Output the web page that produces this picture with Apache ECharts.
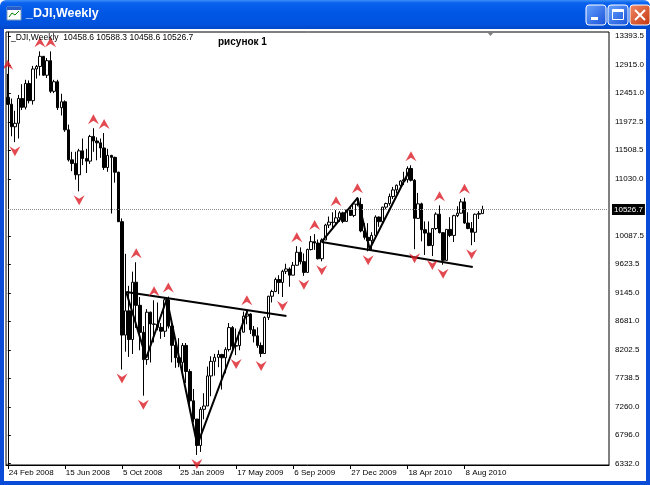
<!DOCTYPE html>
<html><head><meta charset="utf-8">
<script src="https://cdn.jsdelivr.net/npm/echarts@6/dist/echarts.min.js"></script>
<style>html,body{margin:0;padding:0;background:#fff}#c{width:650px;height:485px}</style>
</head><body><div id="c"></div>
<script>
// Weekly OHLC, _DJI, from week of 24 Feb 2008
const opens = [12381,12266,11894,11951,12361,12216,12609,12325,12849,12891,13058,12745,12986,12480,12638,12209,12307,11843,11347,11288,
11100,11496,11370,11326,11734,11659,11628,11543,11220,11421,11388,11143,10325,8451,8852,8378,9325,8943,8497,8046,
8829,8635,8629,8579,8515,9034,8599,8281,8077,8000,8280,7850,7365,7063,6627,7224,7279,7776,8017,8083,
8131,8076,8212,8575,8268,8277,8500,8764,8799,8539,8438,8280,8146,8743,9093,9171,9370,9321,9505,9544,
9441,9605,9820,9665,9487,9865,9995,9972,9713,10023,10270,10318,10310,10389,10471,10329,10520,10428,10618,10610,
10172,10067,10012,10099,10402,10325,10566,10625,10742,10850,10927,10997,11019,11204,11009,10380,10620,10193,10137,9931,
10212,10450,10144,9686,10198,10098,10425,10466,10653,10303,10213,10150,10448,10458.6];
const highs = [12768,12360,12159,12420,12597,12670,12660,12900,12915,13140,13060,13030,13140,12670,12670,12440,12330,11930,11480,11480,
11530,11700,11530,11760,11870,11720,11700,11790,11530,11430,11400,11150,10380,9794,9265,9500,9654,9080,8600,8880,
8840,9026,8990,8650,9065,9088,8640,8330,8400,8320,8320,7890,7560,7063,7260,7490,7930,8100,8140,8200,
8140,8250,8650,8600,8560,8520,8840,8880,8810,8600,8580,8330,8760,9100,9200,9400,9440,9530,9630,9570,
9660,9920,9900,9800,9880,10090,10120,10030,10050,10290,10410,10480,10516,10500,10490,10530,10580,10620,10730,10720,
10300,10300,10150,10430,10410,10570,10640,10790,10900,10940,11010,11150,11240,11258,11030,10800,10640,10330,10330,10220,
10480,10595,10150,10200,10400,10440,10580,10700,10720,10480,10320,10460,10500,10588.3];
const lows = [12254,11737,11640,11700,12170,12180,12280,12260,12690,12740,12740,12700,12450,12450,12170,12080,11810,11320,11160,11020,
10827,11260,11130,11280,11480,11340,11380,11180,11150,10460,10970,10360,7882,8177,8090,8138,8570,8200,7449,7960,
7997,8330,8530,8390,8420,8560,8000,7910,7920,7750,7660,7250,7010,6470,6520,7060,7280,7440,7780,7920,
7550,7820,8180,8220,8120,8200,8490,8630,8470,8330,8240,8087,8140,8700,8990,9160,9130,9080,9460,9250,
9440,9600,9620,9430,9480,9850,9860,9700,9670,10020,10220,10200,10280,10320,10300,10320,10420,10400,10580,10150,
10030,9835,9860,10090,10240,10320,10530,10590,10700,10790,10880,10930,10970,10990,9870,10370,10000,9775,9920,9757,
10190,10130,9614,9680,10070,9990,10400,10460,10290,10200,9936,9990,10370,10458.6];
const closes = [12266,11894,11951,12361,12216,12609,12325,12849,12891,13058,12745,12986,12480,12638,12209,12307,11843,11347,11288,11100,
11496,11370,11326,11734,11659,11628,11543,11220,11421,11388,11143,10325,8451,8852,8378,9325,8943,8497,8046,8829,
8635,8629,8579,8515,9034,8599,8281,8077,8000,8280,7850,7365,7063,6627,7224,7279,7776,8017,8083,8131,
8076,8212,8575,8268,8277,8500,8764,8799,8539,8438,8280,8146,8743,9093,9171,9370,9321,9505,9544,9441,
9605,9820,9665,9487,9865,9995,9972,9713,10023,10270,10318,10310,10389,10471,10329,10520,10428,10618,10610,10172,
10067,10012,10099,10402,10325,10566,10625,10742,10850,10927,10997,11019,11204,11009,10380,10620,10193,10137,9931,10212,
10450,10144,9686,10198,10098,10425,10466,10653,10303,10213,10150,10448,10462,10526.7];

const tickIdx = [0,16,32,48,64,80,96,112,128];
const tickLabels = ['24 Feb 2008','15 Jun 2008','5 Oct 2008','25 Jan 2009','17 May 2009','6 Sep 2009','27 Dec 2009','18 Apr 2010','8 Aug 2010'];
const priceTicks = [13393.5,12915.0,12451.0,11972.5,11508.5,11030.0,10087.5,9623.5,9145.0,8681.0,8202.5,7738.5,7260.0,6796.0,6332.0];
const lastPrice = 10526.7;
const infoText = '_DJI,Weekly  10458.6 10588.3 10458.6 10526.7';

const upFractals = [0,9,12,24,27,36,41,45,67,81,86,92,98,113,121,128];
const downFractals = [2,20,32,38,53,64,71,77,83,88,101,114,119,122,130];

// hand-drawn trend lines: [bar index, price]
const necklineLeft = [[33.19,9163],[78.1,8767]];
const zigzagLeft = [[33.19,9163],[38.8,8072],[44.56,9048],[53.12,6635],[67.16,8849]];
const necklineRight = [[87.93,9990],[130.32,9576]];
const zigzagRight = [[87.93,9990],[98.04,10717],[101.41,9874],[112.92,11213]];

const totalSlots = 169;
const cats = [];
{
  const d0 = new Date(Date.UTC(2008,1,24));
  for (let i = 0; i < totalSlots; i++) {
    const d = new Date(d0.getTime() + i*7*86400000);
    cats.push(d.toISOString().slice(0,10));
  }
}
const candles = opens.map((o,i)=>[o, closes[i], lows[i], highs[i]]);
const FONT = '"Liberation Sans", Arial, sans-serif';
const upPath = 'path://M5,0 L10,10 L5,6.5 L0,10 Z';
const dnPath = 'path://M0,0 L5,3.5 L10,0 L5,10 Z';
const isTick = (i) => tickIdx.indexOf(i) >= 0;

const chart = echarts.init(document.getElementById('c'), null, {renderer:'canvas'});
const lineSeries = (data) => ({
  type:'line', xAxisIndex:1, yAxisIndex:0, data, symbol:'none', silent:true,
  lineStyle:{color:'#000', width:2}, z:5, animation:false
});

chart.setOption({
  animation:false,
  backgroundColor:'#fff',
  grid:{left:6, right:41, top:32, bottom:20, show:true, borderColor:'#000', borderWidth:1, backgroundColor:'#fff'},
  xAxis:[{
    type:'category', data:cats, boundaryGap:true,
    axisLine:{show:true, lineStyle:{color:'#000'}},
    axisTick:{show:true, interval:isTick, alignWithLabel:true, length:4, lineStyle:{color:'#000'}},
    axisLabel:{interval:isTick, formatter:(v,i)=>tickLabels[tickIdx.indexOf(i)], align:'left', fontSize:8, fontFamily:FONT, color:'#000', margin:4, padding:[0,0,0,1]},
    splitLine:{show:false}
  },{
    type:'value', min:-0.5, max:totalSlots-0.5, show:false
  }],
  yAxis:{
    type:'value', position:'right', min:6304, max:13460, scale:true,
    axisLine:{show:true, lineStyle:{color:'#000'}},
    axisTick:{show:true, customValues:priceTicks, length:3, lineStyle:{color:'#000'}},
    axisLabel:{customValues:priceTicks, formatter:(v)=>Number(v).toFixed(1), fontSize:8, fontFamily:FONT, color:'#000', margin:6},
    splitLine:{show:false}
  },
  series:[{
    type:'candlestick', data:candles, barWidth:3,
    itemStyle:{color:'#fff', color0:'#000', borderColor:'#000', borderColor0:'#000', borderWidth:1},
    markLine:{
      silent:true, symbol:['none','none'], animation:false,
      lineStyle:{color:'#8c8c8c', type:'dotted', width:1},
      label:{show:true, position:'end', formatter:lastPrice.toFixed(1), backgroundColor:'#000', color:'#fff', fontSize:8, fontFamily:FONT, padding:[2,2,1,2], distance:3},
      data:[{yAxis:lastPrice}]
    }
  },
  lineSeries(necklineLeft), lineSeries(zigzagLeft), lineSeries(necklineRight), lineSeries(zigzagRight),
  {
    type:'scatter', xAxisIndex:1, symbol:upPath, symbolSize:[11,10], symbolOffset:[0,-9],
    itemStyle:{color:'#dc1c24'}, silent:true, z:6,
    data:upFractals.map(i=>[i, highs[i]])
  },{
    type:'scatter', xAxisIndex:1, symbol:dnPath, symbolSize:[11,10], symbolOffset:[0,9],
    itemStyle:{color:'#dc1c24'}, silent:true, z:6,
    data:downFractals.map(i=>[i, lows[i]])
  }],
  graphic:[
    {type:'rect', shape:{x:0,y:0,width:650,height:29,r:[6,6,0,0]}, z:100,
      style:{fill:new echarts.graphic.LinearGradient(0,0,0,1,[
        {offset:0,color:'#3d8ff9'},{offset:0.1,color:'#0a62ef'},{offset:0.45,color:'#0056e4'},{offset:0.85,color:'#0052dd'},{offset:1,color:'#0046c6'}])}},
    {type:'rect', shape:{x:0,y:29,width:4,height:456}, z:100, style:{fill:'#0a4bd8'}},
    {type:'rect', shape:{x:646,y:29,width:4,height:456}, z:100, style:{fill:'#0a4bd8'}},
    {type:'rect', shape:{x:0,y:481,width:650,height:4}, z:100, style:{fill:'#0a4bd8'}},
    // window icon
    {type:'rect', shape:{x:7,y:7,width:14,height:13}, z:101, style:{fill:'#fff', stroke:'#7f9db9', lineWidth:1}},
    {type:'rect', shape:{x:7,y:7,width:14,height:3}, z:102, style:{fill:'#2a5cc9'}},
    {type:'polyline', shape:{points:[[9,17],[12,13],[15,15],[19,11]]}, z:102, style:{stroke:'#008000', lineWidth:1, fill:null}},
    {type:'text', x:26, y:14, z:101, style:{text:'_DJI,Weekly', fill:'#fff', font:'bold 12.5px "Liberation Sans", Arial, sans-serif', verticalAlign:'middle', textShadowColor:'#0a1e80', textShadowOffsetX:1, textShadowOffsetY:1, textShadowBlur:0}},
    // buttons
    {type:'rect', shape:{x:586,y:5,width:20,height:20,r:3}, z:101, style:{stroke:'#fff', lineWidth:1,
      fill:new echarts.graphic.LinearGradient(0,0,1,1,[{offset:0,color:'#6aa4ff'},{offset:1,color:'#1650d8'}])}},
    {type:'rect', shape:{x:591,y:17,width:7,height:3}, z:102, style:{fill:'#fff'}},
    {type:'rect', shape:{x:608,y:5,width:20,height:20,r:3}, z:101, style:{stroke:'#fff', lineWidth:1,
      fill:new echarts.graphic.LinearGradient(0,0,1,1,[{offset:0,color:'#6aa4ff'},{offset:1,color:'#1650d8'}])}},
    {type:'rect', shape:{x:612.5,y:9.5,width:11,height:10}, z:102, style:{stroke:'#fff', lineWidth:1, fill:null}},
    {type:'rect', shape:{x:612.5,y:9.5,width:11,height:2.5}, z:102, style:{fill:'#fff'}},
    {type:'rect', shape:{x:630,y:5,width:20,height:20,r:3}, z:101, style:{stroke:'#fff', lineWidth:1,
      fill:new echarts.graphic.LinearGradient(0,0,1,1,[{offset:0,color:'#f08a66'},{offset:1,color:'#c4360f'}])}},
    {type:'line', shape:{x1:635,y1:10,x2:645,y2:20}, z:102, style:{stroke:'#fff', lineWidth:2}},
    {type:'line', shape:{x1:645,y1:10,x2:635,y2:20}, z:102, style:{stroke:'#fff', lineWidth:2}},
    // chart texts
    {type:'text', x:11, y:38, z:50, style:{text:infoText, fill:'#000', font:'8.5px "Liberation Sans", Arial, sans-serif', verticalAlign:'middle'}},
    {type:'text', x:218, y:42, z:50, style:{text:'рисунок 1', fill:'#000', font:'bold 10px "Liberation Sans", Arial, sans-serif', verticalAlign:'middle'}},
    {type:'polygon', shape:{points:[[487,32],[494,32],[490.5,36]]}, z:50, style:{fill:'#808080'}}
  ]
});
</script>
</body></html>
